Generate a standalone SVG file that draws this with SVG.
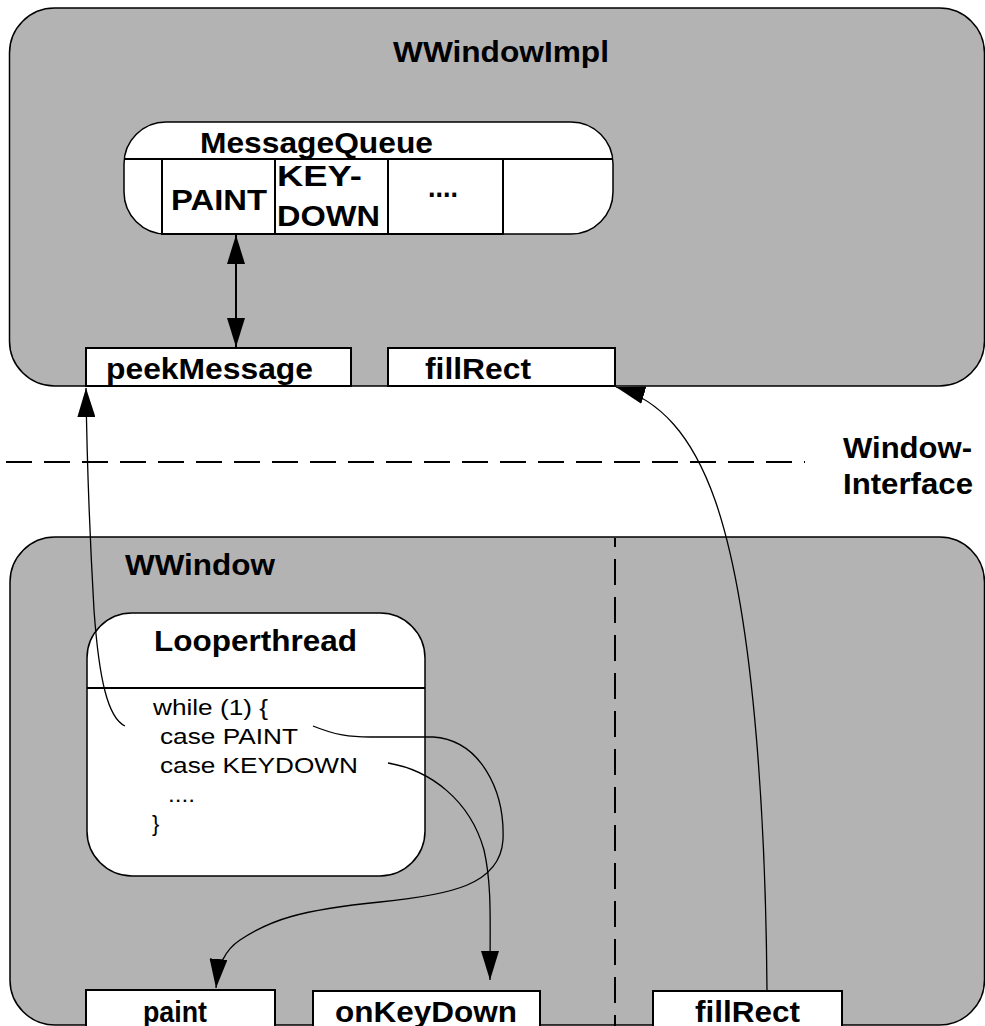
<svg xmlns="http://www.w3.org/2000/svg" width="985" height="1026" viewBox="0 0 985 1026">
<defs>
<style>
.panel{fill:#b3b3b3;stroke:#000;stroke-width:1.5}
.box{fill:#fff;stroke:#000;stroke-width:2}
.thin{fill:#fff;stroke:#000;stroke-width:1.5}
.b{font-family:"Liberation Sans",Arial,sans-serif;font-weight:bold;font-size:29px;fill:#000}
.r{font-family:"Liberation Sans",Arial,sans-serif;font-size:22px;fill:#000}
.conn{fill:none;stroke:#000;stroke-width:1.3}
.dash{fill:none;stroke:#000;stroke-width:2;stroke-dasharray:26 12}
</style>
<marker id="ah" viewBox="0 0 29 18" refX="29" refY="9" markerWidth="29" markerHeight="18" markerUnits="userSpaceOnUse" orient="auto-start-reverse">
<path d="M0,0 L29,9 L0,18 z" fill="#000"/>
</marker>
</defs>

<g id="WWindowImpl">
<rect class="panel" x="9.5" y="8" width="975" height="378" rx="45" ry="45"/>
<text class="b" x="393" y="62" textLength="216" lengthAdjust="spacingAndGlyphs">WWindowImpl</text>
</g>

<g id="MessageQueue">
<rect class="thin" x="124" y="122" width="489" height="112" rx="42" ry="42"/>
<line x1="124" y1="159" x2="613" y2="159" stroke="#000" stroke-width="2"/>
<path d="M162,159 V234 H503 V159 M275,159 V234 M388,159 V234" fill="none" stroke="#000" stroke-width="2"/>
<text class="b" x="200" y="153" textLength="233" lengthAdjust="spacingAndGlyphs">MessageQueue</text>
<text class="b" x="171" y="210" textLength="96" lengthAdjust="spacingAndGlyphs">PAINT</text>
<text class="b" x="277" y="186" textLength="85" lengthAdjust="spacingAndGlyphs">KEY-</text>
<text class="b" x="277" y="226" textLength="103" lengthAdjust="spacingAndGlyphs">DOWN</text>
<text class="b" x="428" y="197" textLength="30" lengthAdjust="spacingAndGlyphs">....</text>
</g>

<g id="peekMessage">
<rect class="box" x="86" y="348" width="265" height="38"/>
<text class="b" x="106" y="379" textLength="207" lengthAdjust="spacingAndGlyphs">peekMessage</text>
</g>

<g id="fillRectImpl">
<rect class="box" x="388" y="348" width="227" height="38"/>
<text class="b" x="425" y="379" textLength="106" lengthAdjust="spacingAndGlyphs">fillRect</text>
</g>

<g id="WindowInterface">
<line class="dash" x1="6" y1="462" x2="805" y2="462"/>
<text class="b" x="843" y="458" textLength="129" lengthAdjust="spacingAndGlyphs">Window-</text>
<text class="b" x="843" y="494" textLength="130" lengthAdjust="spacingAndGlyphs">Interface</text>
</g>

<g id="WWindow">
<rect class="panel" x="10" y="537" width="974.5" height="488" rx="45" ry="45"/>
<line class="dash" x1="615" y1="538" x2="615" y2="1026" style="stroke-dashoffset:17"/>
<text class="b" x="125" y="575" textLength="150" lengthAdjust="spacingAndGlyphs">WWindow</text>
</g>

<g id="Looperthread">
<rect class="thin" x="87" y="613" width="338" height="263" rx="45" ry="45"/>
<line x1="87" y1="688" x2="425" y2="688" stroke="#000" stroke-width="2"/>
<text class="b" x="154" y="651" textLength="203" lengthAdjust="spacingAndGlyphs">Looperthread</text>
<text class="r" x="153" y="715" textLength="115" lengthAdjust="spacingAndGlyphs">while (1) {</text>
<text class="r" x="160" y="744" textLength="138" lengthAdjust="spacingAndGlyphs">case PAINT</text>
<text class="r" x="160" y="773" textLength="198" lengthAdjust="spacingAndGlyphs">case KEYDOWN</text>
<text class="r" x="168" y="802" textLength="27" lengthAdjust="spacingAndGlyphs">....</text>
<text class="r" x="152" y="831">}</text>
</g>

<g id="paint">
<rect class="box" x="86" y="990" width="189" height="40"/>
<text class="b" x="143" y="1022" textLength="64" lengthAdjust="spacingAndGlyphs">paint</text>
</g>

<g id="onKeyDown">
<rect class="box" x="313" y="991" width="227" height="40"/>
<text class="b" x="335" y="1022" textLength="182" lengthAdjust="spacingAndGlyphs">onKeyDown</text>
</g>

<g id="fillRect">
<rect class="box" x="653" y="991" width="189" height="40"/>
<text class="b" x="695" y="1022" textLength="105" lengthAdjust="spacingAndGlyphs">fillRect</text>
</g>

<g id="connectors">
<line x1="236" y1="235" x2="236" y2="347" stroke="#000" stroke-width="2" marker-start="url(#ah)" marker-end="url(#ah)"/>
<path class="conn" d="M125,726 C108,718 99,680 94,610 C90,540 87,470 86,388" marker-end="url(#ah)"/>
<path class="conn" d="M767,991 C766,850 757,620 715,500 C692,435 660,400 616,387" marker-end="url(#ah)"/>
<path class="conn" d="M313,726 C335,735 350,737 370,737 L433,737 C480,740 505,790 503,840 C500,885 450,895 380,902 C300,910 270,920 240,940 C225,950 218,965 216,988" marker-end="url(#ah)"/>
<path class="conn" d="M388,763 C430,770 470,800 484,850 C492,885 490,920 490,980" marker-end="url(#ah)"/>
</g>
</svg>
